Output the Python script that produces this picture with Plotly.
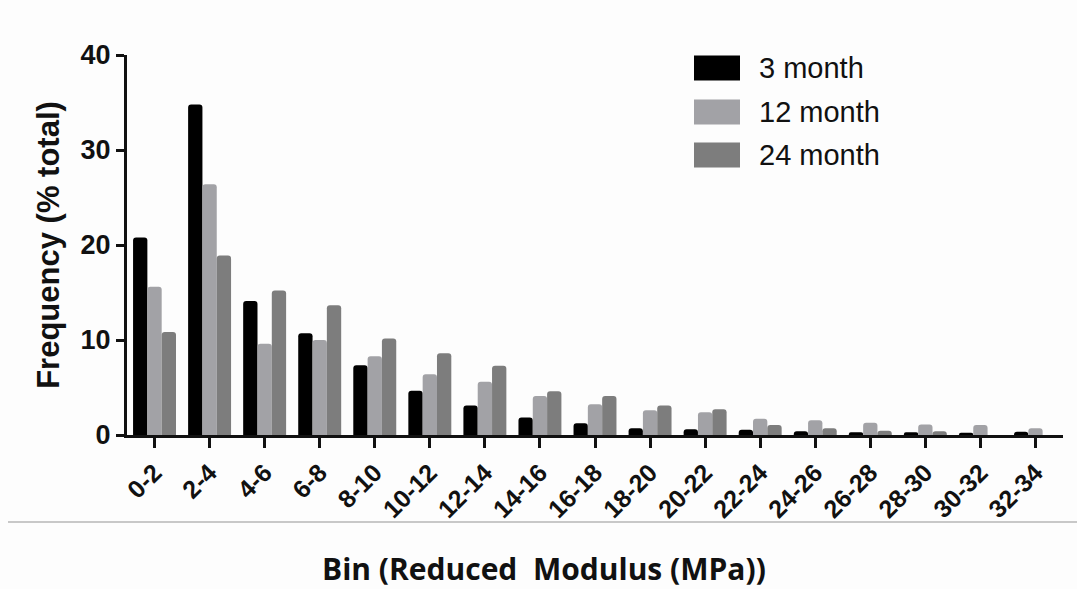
import plotly.graph_objects as go

bins = ["0-2", "2-4", "4-6", "6-8", "8-10", "10-12", "12-14", "14-16", "16-18",
        "18-20", "20-22", "22-24", "24-26", "26-28", "28-30", "30-32", "32-34"]
m3 = [20.8, 34.8, 14.1, 10.7, 7.35, 4.65, 3.1, 1.85, 1.25, 0.7, 0.6, 0.55, 0.4, 0.3, 0.3, 0.25, 0.35]
m12 = [15.6, 26.4, 9.6, 10.0, 8.3, 6.4, 5.6, 4.1, 3.25, 2.6, 2.4, 1.7, 1.55, 1.3, 1.1, 1.05, 0.7]
m24 = [10.85, 18.9, 15.2, 13.65, 10.15, 8.6, 7.3, 4.6, 4.1, 3.1, 2.7, 1.05, 0.7, 0.45, 0.4, 0.0, 0.0]
series_names = ["3 month", "12 month", "24 month"]
colors = ["#000000", "#a2a2a6", "#7d7d7d"]

fig = go.Figure()
for name, vals, c in zip(series_names, [m3, m12, m24], colors):
    fig.add_trace(go.Bar(x=bins, y=vals, name=name, marker=dict(color=c, line=dict(width=0))))

# custom legend (large boxes like the original)
shapes = []
annotations = []
legend_y = [68, 112, 155]
for name, c, yc in zip(series_names, colors, legend_y):
    shapes.append(dict(type="rect", xref="paper", yref="paper",
                       x0=(694 - 127) / 936, x1=(740 - 127) / 936,
                       y0=(435 - (yc + 12.5)) / 380, y1=(435 - (yc - 12.5)) / 380,
                       fillcolor=c, line=dict(width=0), layer="above"))
    annotations.append(dict(text=name, xref="paper", yref="paper",
                            x=(757 - 127) / 936, y=(435 - yc) / 380,
                            xanchor="left", yanchor="middle", showarrow=False,
                            font=dict(family="Liberation Sans, Arial", size=29, color="#111111")))

# separator line and bottom title
shapes.append(dict(type="line", xref="paper", yref="paper",
                   x0=(8 - 127) / 936, x1=(1077 - 127) / 936,
                   y0=(435 - 522) / 380, y1=(435 - 522) / 380,
                   line=dict(color="#c8c8c8", width=2)))
annotations.append(dict(text="Bin (Reduced\u00a0\u00a0Modulus (MPa))", xref="paper", yref="paper",
                        x=(544 - 127) / 936, y=(435 - 568) / 380,
                        xanchor="center", yanchor="middle", showarrow=False,
                        font=dict(family="Open Sans, Lato", size=30, color="#111111", weight="bold")))

fig.update_layout(
    width=1077, height=589,
    margin=dict(l=127, r=14, t=55, b=154),
    paper_bgcolor="#fdfdfd", plot_bgcolor="#fdfdfd",
    barmode="group", bargap=0.22, bargroupgap=0.0,
    barcornerradius=3,
    showlegend=False,
    shapes=shapes, annotations=annotations,
    font=dict(family="Liberation Sans, Arial", color="#111111"),
)
fig.update_xaxes(
    type="category", automargin=False,
    showline=True, linecolor="#111111", linewidth=3,
    ticks="outside", ticklen=10, tickwidth=3, tickcolor="#111111",
    tickangle=-45, showgrid=False, zeroline=False,
    tickfont=dict(family="Liberation Sans, Arial", size=25, color="#111111", weight="bold"),
    range=[-0.5, 16.5],
)
fig.update_yaxes(
    automargin=False,
    range=[0, 40], tickvals=[0, 10, 20, 30, 40],
    showline=True, linecolor="#111111", linewidth=3,
    ticks="outside", ticklen=8, tickwidth=3, tickcolor="#111111",
    showgrid=False, zeroline=False,
    tickfont=dict(family="Liberation Sans, Arial", size=27, color="#111111", weight="bold"),
    title=dict(text="Frequency (% total)", standoff=12,
               font=dict(family="Liberation Sans, Arial", size=31, color="#111111", weight="bold")),
)

fig.write_html("out.html")
